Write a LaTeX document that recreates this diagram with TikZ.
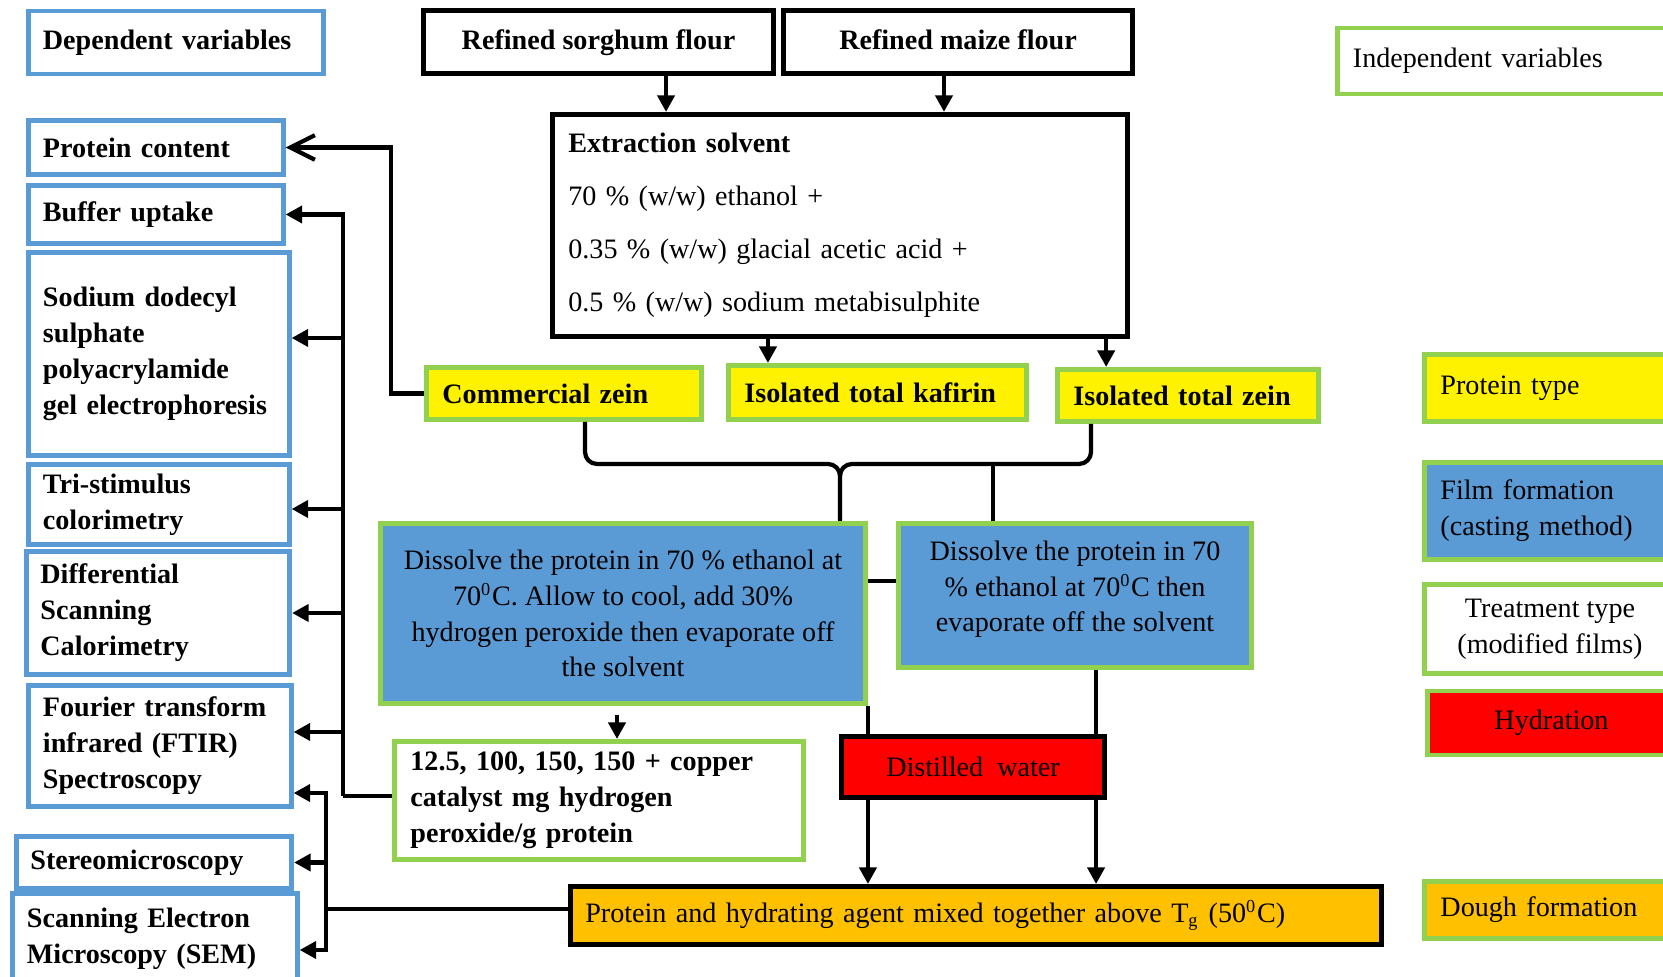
\documentclass[tikz,border=0pt]{standalone}
\usepackage{fontspec}
\setmainfont{Liberation Serif}
\usetikzlibrary{arrows.meta}
\definecolor{depblue}{HTML}{5B9BD5}
\definecolor{indgreen}{HTML}{92D050}
\definecolor{filmblue}{HTML}{5B9BD5}
\definecolor{doughorange}{HTML}{FFC000}
\tikzstyle{base}=[rectangle, line width=1.4pt, inner ysep=2pt,
  font=\fontsize{8pt}{10.2pt}\selectfont]
\tikzstyle{depvar}=[base, draw=depblue, fill=white, align=left, inner xsep=4pt,
  font=\fontsize{8pt}{10.2pt}\selectfont\bfseries]
\tikzstyle{indvar}=[base, draw=indgreen, fill=white, align=left, inner xsep=4.5pt]
\tikzstyle{flour}=[base, draw=black, fill=white, align=center,
  font=\fontsize{8pt}{10.2pt}\selectfont\bfseries]
\tikzstyle{proteinbox}=[indvar, fill=yellow,
  font=\fontsize{8pt}{10.2pt}\selectfont\bfseries]
\tikzstyle{film}=[indvar, fill=filmblue, align=center]
\tikzstyle{hydrat}=[base, draw=black, fill=red, align=center]
\tikzstyle{dough}=[base, draw=black, fill=doughorange, align=left, inner xsep=4.2pt]
\tikzstyle{joint}=[draw, line width=1.2pt]
\tikzstyle{line}=[joint, -{Triangle[length=4.7pt,width=4.8pt]}]
\tikzstyle{barb}=[joint, -{Straight Barb[length=7pt,width=7pt]}]
\newcommand{\supzero}{\textsuperscript{\fontsize{5.2pt}{6pt}\selectfont 0}}
\newcommand{\subg}{\textsubscript{\fontsize{5.2pt}{6pt}\selectfont g}}

\begin{document}
\begin{tikzpicture}[x=0.01cm, y=-0.01cm]
  \useasboundingbox (0,0) rectangle (1663,977);
  \clip (0,0) rectangle (1663,977);

  % dependent variables column
  \node (DEPVAR) [depvar, text width=2.66cm, minimum height=0.63cm] at (176,42.5) {\strut Dependent variables};
  \node (PROTEINCONTENT) [depvar, text width=2.26cm, minimum height=0.54cm] at (156,147.5) {Protein content};
  \node (BUFFERUPTAKE) [depvar, text width=2.26cm, minimum height=0.58cm] at (156,214.5) {Buffer uptake};
  \node (SDSPAGE) [depvar, text width=2.32cm, minimum height=2.03cm] at (159,354)
    {Sodium dodecyl\\sulphate\\polyacrylamide\\gel electrophoresis};
  \node (TRISTIMULUS) [depvar, text width=2.32cm, minimum height=0.80cm] at (159,504.5) {Tri-stimulus\\colorimetry};
  \node (DSC) [depvar, text width=2.35cm, minimum height=1.23cm] at (158,613) {Differential\\Scanning\\Calorimetry};
  \node (FTIR) [depvar, text width=2.34cm, minimum height=1.21cm] at (160,746) {Fourier transform\\infrared (FTIR)\\Spectroscopy};
  \node (STEREO) [depvar, text width=2.47cm, minimum height=0.52cm] at (154,862.5) {Stereomicroscopy};
  \node (SEM) [depvar, text width=2.56cm, minimum height=0.91cm] at (155,939) {Scanning Electron\\Microscopy (SEM)};

  % flours and extraction
  \node (SORGHUM) [flour, minimum width=3.50cm, minimum height=0.625cm] at (598.5,42) {\strut Refined sorghum flour};
  \node (MAIZE) [flour, minimum width=3.49cm, minimum height=0.625cm] at (958,42) {\strut Refined maize flour};
  \node (EXTRACT) [flour, align=left, text width=5.43cm, inner xsep=4.5pt, minimum height=2.22cm,
    font=\fontsize{8pt}{10.2pt}\selectfont] at (840,225.5)
    {\textbf{Extraction solvent}\\[4.9pt]70 \% (w/w) ethanol +\\[4.9pt]0.35 \% (w/w) glacial acetic acid +\\[4.9pt]0.5 \% (w/w) sodium metabisulphite};

  % protein types
  \node (COMMZEIN) [proteinbox, text width=2.43cm, minimum height=0.52cm] at (564,393.5) {Commercial zein};
  \node (KAFIRIN) [proteinbox, text width=2.66cm, minimum height=0.54cm] at (877.5,392.5) {Isolated total kafirin};
  \node (ISOZEIN) [proteinbox, text width=2.29cm, minimum height=0.52cm] at (1188,395.5) {Isolated total zein};

  % film formation and treatment
  \node (DISSOLVEA) [film, minimum width=4.85cm, minimum height=1.80cm] at (623,613.5)
    {Dissolve the protein in 70 \% ethanol at\\70\supzero C. Allow to cool, add 30\%\\hydrogen peroxide then evaporate off\\the solvent};
  \node (DISSOLVEB) [film, minimum width=3.53cm, minimum height=1.44cm] at (1075,595.5)
    {Dissolve the protein in 70\\\% ethanol at 70\supzero C then\\evaporate off the solvent\\[-5pt]\mbox{}};
  \node (HPDOSE) [indvar, text width=3.77cm, minimum height=1.18cm,
    font=\fontsize{8pt}{10.2pt}\selectfont\bfseries] at (599,800.5)
    {12.5, 100, 150, 150 + copper\\catalyst mg hydrogen\\peroxide/g protein};
  \node (WATER) [hydrat, minimum width=2.63cm, minimum height=0.61cm] at (973,767) {Distilled\ \ water};
  \node (MIXING) [dough, text width=7.81cm, minimum height=0.58cm] at (976,915.5)
    {Protein and hydrating agent mixed together above T\subg\ (50\supzero C)};

  % independent variables legend
  \node (INDEPVAR) [indvar, text width=3.06cm, minimum height=0.66cm] at (1506,61) {Independent variables};
  \node (PROTEINTYPE) [indvar, fill=yellow, text width=2.19cm, minimum height=0.675cm] at (1550,388) {Protein type};
  \node (FILMFORM) [indvar, fill=filmblue, text width=2.19cm, minimum height=0.975cm] at (1550,511) {Film formation\\(casting method)};
  \node (TREATTYPE) [indvar, align=center, minimum width=2.505cm, minimum height=0.89cm] at (1550,629) {Treatment type\\(modified films)};
  \node (HYDRATION) [indvar, fill=red, align=center, minimum width=2.47cm, minimum height=0.64cm] at (1551.5,723) {Hydration};
  \node (DOUGHFORM) [indvar, fill=doughorange, text width=2.19cm, minimum height=0.575cm] at (1550,910) {Dough formation};

  % flours to extraction to proteins
  \path [line] ([xshift=0.675cm]SORGHUM.south) -- ([xshift=0.675cm]SORGHUM.south |- EXTRACT.north);
  \path [line] ([xshift=-0.14cm]MAIZE.south) -- ([xshift=-0.14cm]MAIZE.south |- EXTRACT.north);
  \path [line] ([xshift=-0.72cm]EXTRACT.south) -- ([xshift=-0.72cm]EXTRACT.south |- KAFIRIN.north);
  \path [line] ([xshift=2.66cm]EXTRACT.south) -- ([xshift=2.66cm]EXTRACT.south |- ISOZEIN.north);
  \path [barb] (COMMZEIN.west) -| ([xshift=1.05cm]PROTEINCONTENT.east) -- (PROTEINCONTENT.east);

  % brace from the proteins to the film methods
  \coordinate (BRACEMID) at (840,476);
  \coordinate (BRACEB) at (993,464);
  \path [joint] ([xshift=0.21cm]COMMZEIN.south) -- (585,452) to[out=-90,in=180] (597,464)
    -- (828,464) to[out=0,in=90] (BRACEMID) -- (BRACEMID |- DISSOLVEA.north);
  \path [joint] ([xshift=-0.97cm]ISOZEIN.south) -- (1091,452) to[out=-90,in=0] (1079,464)
    -- (852,464) to[out=180,in=90] (BRACEMID);
  \path [joint] (BRACEB) -- (BRACEB |- DISSOLVEB.north);
  \path [joint] ([yshift=0.325cm]DISSOLVEA.east) -- ([yshift=0.325cm]DISSOLVEA.east -| DISSOLVEB.west);

  % treatment and hydration
  \path [line] ([xshift=-0.06cm,yshift=-0.085cm]DISSOLVEA.south) -- ([xshift=-0.06cm]DISSOLVEA.south |- HPDOSE.north);
  \path [joint] (DISSOLVEA.south east) -- (DISSOLVEA.south east |- WATER.north);
  \path [joint] ([xshift=0.21cm]DISSOLVEB.south) -- ([xshift=0.21cm]DISSOLVEB.south |- WATER.north);
  \path [line] ([xshift=-1.05cm]WATER.south) -- ([xshift=-1.05cm]WATER.south |- MIXING.north);
  \path [line] ([xshift=1.23cm]WATER.south) -- ([xshift=1.23cm]WATER.south |- MIXING.north);

  % analyses of the modified films
  \coordinate (HPTRUNK) at (343,796);
  \path [joint] (HPDOSE.west |- HPTRUNK) -- (HPTRUNK);
  \path [line] (HPTRUNK) |- (BUFFERUPTAKE.east);
  \path [line] (HPTRUNK) |- ([yshift=0.16cm]SDSPAGE.east);
  \path [line] (HPTRUNK) |- ([yshift=-0.045cm]TRISTIMULUS.east);
  \path [line] (HPTRUNK) |- (DSC.east);
  \path [line] (HPTRUNK) |- ([yshift=0.14cm]FTIR.east);

  % analyses of the dough
  \coordinate (MIXTRUNK) at (326,909);
  \path [joint] (MIXING.west |- MIXTRUNK) -- (MIXTRUNK);
  \path [line] (MIXTRUNK) |- ([yshift=-0.47cm]FTIR.east);
  \path [line] (MIXTRUNK) |- (STEREO.east);
  \path [line] (MIXTRUNK) |- ([yshift=-0.11cm]SEM.east);
\end{tikzpicture}
\end{document}
